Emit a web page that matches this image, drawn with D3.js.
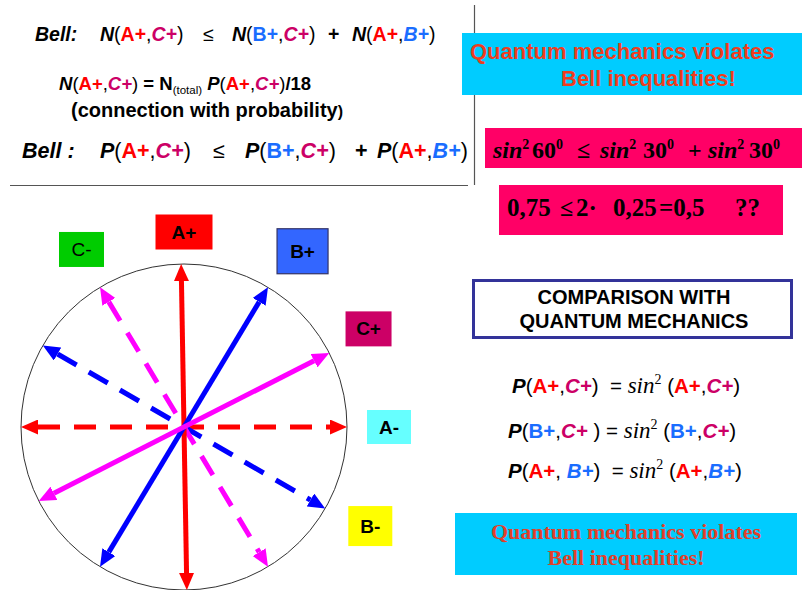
<!DOCTYPE html>
<html><head><meta charset="utf-8">
<script src="https://cdn.jsdelivr.net/npm/d3@7"></script>
<style>html,body{margin:0;padding:0;background:#fff}svg{display:block}text{white-space:pre}</style>
</head><body>
<script>
// ---- data ----
const axisNames  = ["A+", "B+", "C+", "A-", "B-", "C-"];
const axisAngles = [-1, 31, 63, 90, 120, 149];          // orientation of each double arrow (deg, clockwise from up)
const axisLetter = ["A", "B", "C", "A", "B", "C"];
const axisSolid  = [true, true, true, false, false, false];
const labelAngles = [0, 34, 62, 90, 118, 330];          // direction of each label box from the centre
const compareTitle = ["COMPARISON WITH", "QUANTUM MECHANICS"];
const verdictLines = ["Quantum mechanics violates", "Bell inequalities!"];
const sinAngles = ["60", "30", "30"];
const numericCheck = ["0,75", "≤", "2·", "0,25", "=0,5", "??"];

// ---- layout / styles ----
const W = 802, H = 590;
const C = {x: 184, y: 427, r: 163};
const letterColor = {A: "#ff0000", B: "#0000ff", C: "#ff00ff"};
const labelLayout = {
  "A+": {d: 195, w: 57, h: 35, fill: "#ff0000", stroke: "none", weight: "bold"},
  "B+": {d: 212, w: 51, h: 45, fill: "#3366ff", stroke: "#333366", weight: "bold"},
  "C+": {d: 209, w: 46, h: 35, fill: "#cc0066", stroke: "none", weight: "bold"},
  "A-": {d: 205, w: 44, h: 34, fill: "#66ffff", stroke: "none", weight: "bold"},
  "B-": {d: 211, w: 44, h: 40, fill: "#ffff00", stroke: "none", weight: "bold"},
  "C-": {d: 205, w: 45, h: 35, fill: "#00cc00", stroke: "none", weight: "normal"}
};
const RED = "#ff0000", CRIM = "#cc0066", BLUE = "#1a6dff";
const SANS = "'Liberation Sans', Arial, sans-serif";
const SERIF = "'Liberation Serif', 'Times New Roman', serif";

const svg = d3.select("body").append("svg").attr("width", W).attr("height", H);
const defs = svg.append("defs");

// ---- scales ----
const angle = d3.scaleLinear().domain([0, 360]).range([0, 2 * Math.PI]);
const rad = d3.scaleLinear().domain([0, 1]).range([0, C.r]);
const polar = (deg, r) => [C.x + r * Math.sin(angle(deg)), C.y - r * Math.cos(angle(deg))];

// ---- rich text helper ----
function rich(x, y, segs, o = {}) {
  const t = svg.append("text").attr("x", x).attr("y", y)
    .attr("font-family", o.f || SANS).attr("font-size", o.s || 18)
    .attr("font-weight", o.w || "bold").attr("fill", o.c || "#000")
    .attr("text-anchor", o.a || "start").attr("xml:space", "preserve");
  segs.forEach(s => {
    const ts = t.append("tspan").text(s.t);
    if (s.c) ts.attr("fill", s.c);
    if (s.i) ts.attr("font-style", "italic");
    if (s.w) ts.attr("font-weight", s.w);
    if (s.f) ts.attr("font-family", s.f);
    if (s.s) ts.attr("font-size", s.s);
    if (s.dy) ts.attr("dy", s.dy);
  });
  return t;
}
const term = (p, a, b, extra = {}) => [
  {t: p, i: true},
  {t: "(", w: "normal"},
  {t: a.t, c: a.c, i: a.i},
  {t: extra.comma || ",", w: "normal"},
  {t: b.t, c: b.c, i: b.i},
  {t: extra.close || ")", w: "normal"}
];
const Ap = {t: "A+", c: RED}, Bp = {t: "B+", c: BLUE}, Bpi = {t: "B+", c: BLUE, i: true}, Cp = {t: "C+", c: CRIM, i: true};

// ---- top-left block ----
const s1 = 19.5;
rich(35, 41, [{t: "Bell:", i: true}], {s: s1});
rich(100, 41, term("N", Ap, Cp), {s: s1});
rich(203, 41, [{t: "≤", w: "normal"}], {s: s1});
rich(232, 41, term("N", Bp, Cp), {s: s1});
rich(328, 41, [{t: "+"}], {s: s1});
rich(352, 41, term("N", Ap, Bpi), {s: s1});

rich(59, 90, term("N", Ap, Cp).concat([
  {t: " = N"}, {t: "(total)", w: "normal", s: 11.5, dy: 4}, {t: " ", dy: -4},
  {t: "P", i: true}, {t: "(", w: "normal"}, {t: "A+", c: RED}, {t: ",", w: "normal"}, {t: "C+", c: CRIM, i: true}, {t: ")", w: "normal"}, {t: "/18"}
]), {s: 18.5});
rich(71, 117, [{t: "(connection with probability"}, {t: ")", s: 16}], {s: 20});

const s4 = 21.5;
rich(22, 158, [{t: "Bell :", i: true}], {s: s4});
rich(100, 158, term("P", Ap, Cp), {s: s4});
rich(213, 158, [{t: "≤", w: "normal"}], {s: s4});
rich(245, 158, term("P", Bp, Cp), {s: s4});
rich(355, 158, [{t: "+"}], {s: s4});
rich(377, 158, term("P", Ap, Bpi), {s: s4});

svg.append("line").attr("x1", 10).attr("x2", 468).attr("y1", 185.5).attr("y2", 185.5).attr("stroke", "#555").attr("stroke-width", 1.2);
svg.append("line").attr("x1", 474.5).attr("x2", 474.5).attr("y1", 5).attr("y2", 185).attr("stroke", "#555").attr("stroke-width", 1.2);

// ---- top-right boxes ----
svg.append("rect").attr("x", 462).attr("y", 33).attr("width", 340).attr("height", 62).attr("fill", "#00ccff");
rich(470, 59, [{t: verdictLines[0]}], {s: 22, c: "#ee3d1e"});
rich(561, 86, [{t: verdictLines[1]}], {s: 22, c: "#ee3d1e"});

svg.append("rect").attr("x", 485).attr("y", 128).attr("width", 317).attr("height", 40).attr("fill", "#ff0066");
const sinSeg = [{t: "sin", i: true}, {t: "2", s: 14, dy: -9}];
const degSeg = v => [{t: v}, {t: "0", s: 14, dy: -9}];
const pinkOpt = {f: SERIF, s: 24};
rich(493, 158, sinSeg, pinkOpt);
rich(532, 158, degSeg(sinAngles[0]), pinkOpt);
rich(577, 158, [{t: "≤"}], pinkOpt);
rich(600, 158, sinSeg, pinkOpt);
rich(643, 158, degSeg(sinAngles[1]), pinkOpt);
rich(688, 158, [{t: "+"}], pinkOpt);
rich(708, 158, sinSeg, pinkOpt);
rich(749, 158, degSeg(sinAngles[2]), pinkOpt);

svg.append("rect").attr("x", 499).attr("y", 185).attr("width", 284).attr("height", 50).attr("fill", "#ff0066");
const numX = [507, 560, 576, 613, 659, 735];
const numS = [25, 24, 25, 25, 25, 25];
numericCheck.forEach((t, i) => rich(numX[i], 216, [{t}], {f: SERIF, s: numS[i]}));

// ---- comparison box ----
svg.append("rect").attr("x", 473.5).attr("y", 280.5).attr("width", 318).attr("height", 57)
  .attr("fill", "#fff").attr("stroke", "#333399").attr("stroke-width", 3);
compareTitle.forEach((t, i) => rich(634, 304 + i * 24, [{t}], {s: 20, a: "middle"}));

const sin2 = [{t: "sin", f: SERIF, i: true, w: "normal", s: 23}, {t: "2", f: SERIF, w: "normal", s: 14, dy: -9}, {t: " ", dy: 9}];
const paren = (a, b) => [{t: "(", w: "normal"}, {t: a.t, c: a.c, i: a.i}, {t: ",", w: "normal"}, {t: b.t, c: b.c, i: b.i}, {t: ")", w: "normal"}];
rich(512, 393, term("P", Ap, Cp).concat([{t: "  = ", w: "normal"}], sin2, paren(Ap, Cp)), {s: 20.5});
rich(508, 438, term("P", Bp, Cp, {close: " )"}).concat([{t: " = ", w: "normal"}], sin2, paren(Bp, Cp)), {s: 20.5});
rich(508, 478, term("P", Ap, Bpi, {comma: ", "}).concat([{t: "  = ", w: "normal"}], sin2, paren(Ap, Bpi)), {s: 20.5});

svg.append("rect").attr("x", 455).attr("y", 513).attr("width", 342).attr("height", 62).attr("fill", "#00ccff");
verdictLines.forEach((t, i) => rich(626, 539 + i * 26, [{t}], {f: SERIF, s: 22, c: "#e0402a", a: "middle"}));

// ---- circle diagram ----
svg.append("circle").attr("cx", C.x).attr("cy", C.y).attr("r", rad(1))
  .attr("fill", "none").attr("stroke", "#333").attr("stroke-width", 1);

const HEAD = 17;
Object.entries(letterColor).forEach(([k, col]) => {
  defs.append("marker").attr("id", "head" + k)
    .attr("viewBox", "0 0 17 15").attr("refX", 0).attr("refY", 7.5)
    .attr("markerWidth", 17).attr("markerHeight", 15).attr("markerUnits", "userSpaceOnUse")
    .attr("orient", "auto-start-reverse")
    .append("path").attr("d", "M0,0L17,7.5L0,15Z").attr("fill", col);
});

const axes = axisNames.map((n, i) => ({name: n, ang: axisAngles[i], letter: axisLetter[i], solid: axisSolid[i]}));
const order = axes.filter(a => !a.solid).concat(axes.filter(a => a.solid));
svg.append("g").selectAll("line").data(order).join("line")
  .attr("x1", d => polar(d.ang + 180, rad(1) - HEAD)[0])
  .attr("y1", d => polar(d.ang + 180, rad(1) - HEAD)[1])
  .attr("x2", d => polar(d.ang, rad(1) - HEAD)[0])
  .attr("y2", d => polar(d.ang, rad(1) - HEAD)[1])
  .attr("stroke", d => letterColor[d.letter])
  .attr("stroke-width", 5)
  .attr("stroke-dasharray", d => d.solid ? null : "22,14")
  .attr("marker-start", d => `url(#head${d.letter})`)
  .attr("marker-end", d => `url(#head${d.letter})`);

// label boxes
const lab = svg.append("g").selectAll("g").data(axisNames.map((n, i) => ({name: n, ang: labelAngles[i], L: labelLayout[n]})))
  .join("g").attr("transform", d => { const p = polar(d.ang, d.L.d); return `translate(${p[0]},${p[1]})`; });
lab.append("rect").attr("x", d => -d.L.w / 2).attr("y", d => -d.L.h / 2)
  .attr("width", d => d.L.w).attr("height", d => d.L.h)
  .attr("fill", d => d.L.fill).attr("stroke", d => d.L.stroke).attr("stroke-width", 1.2);
lab.append("text").attr("text-anchor", "middle").attr("dy", 6.5)
  .attr("font-family", SANS).attr("font-size", 19).attr("font-weight", d => d.L.weight)
  .text(d => d.name);
</script>
</body></html>
